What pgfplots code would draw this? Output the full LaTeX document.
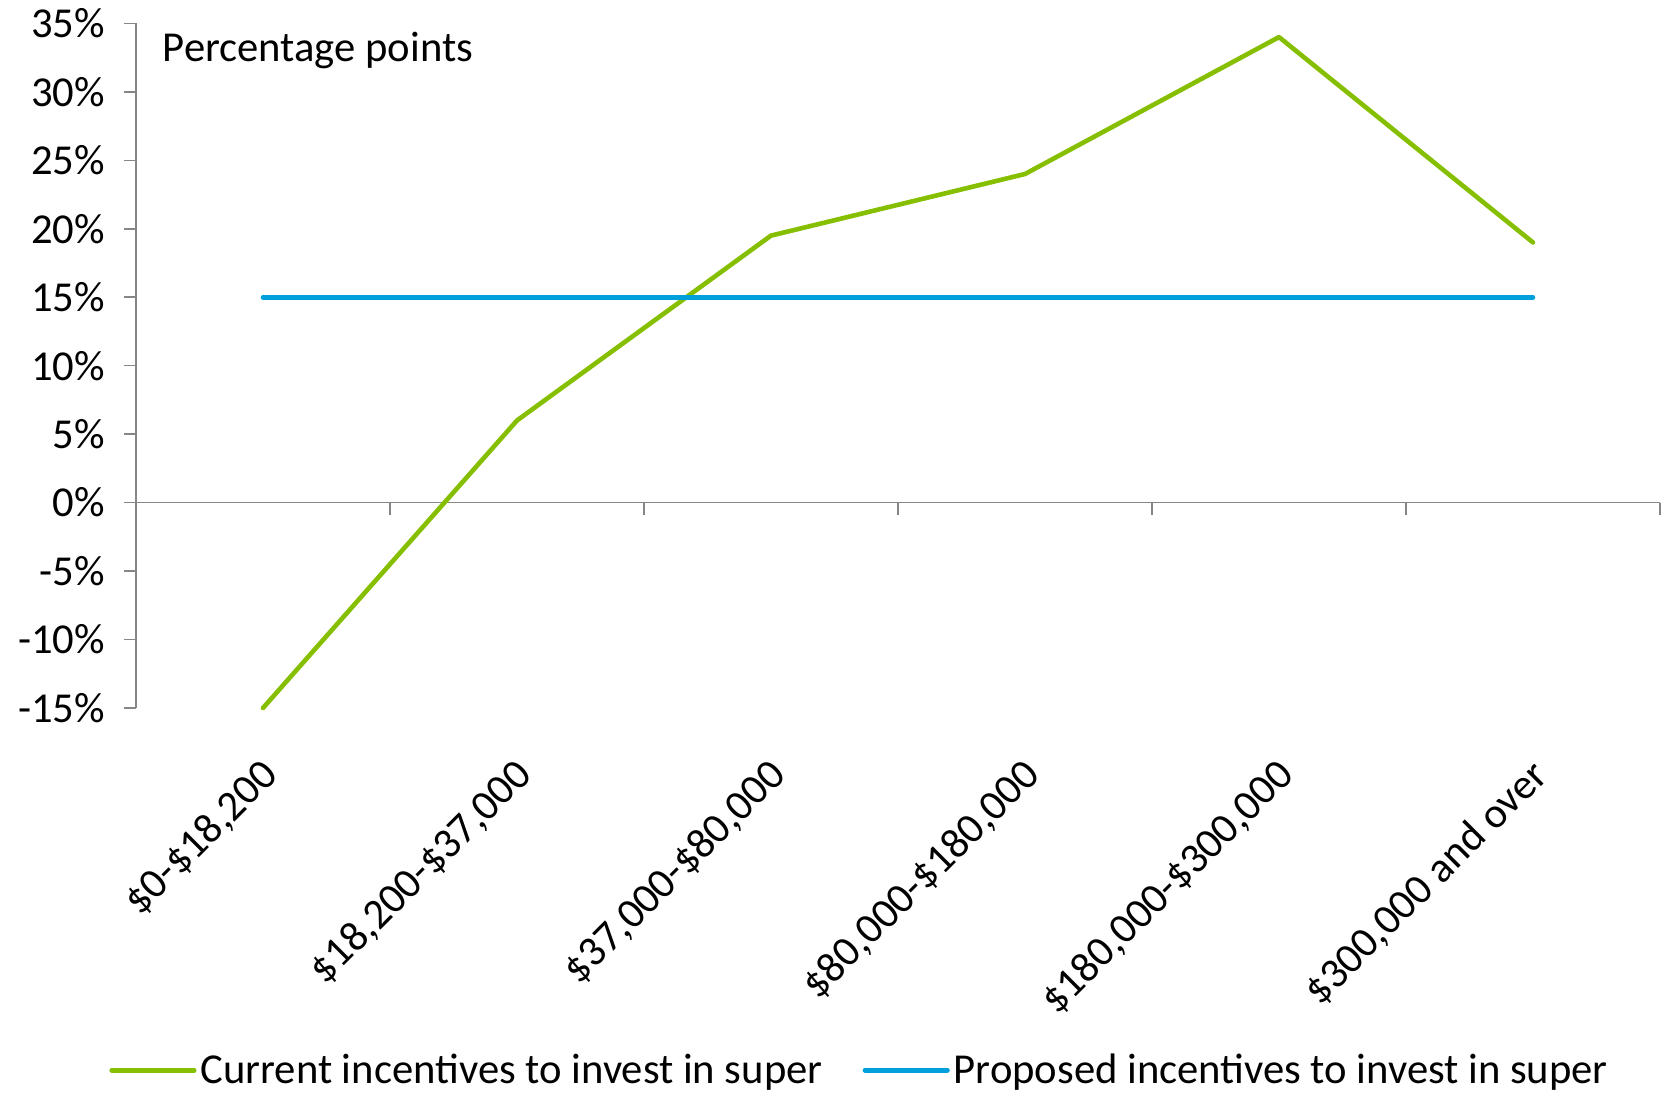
\documentclass[border=0pt]{standalone}
\usepackage{pgfplots}
\pgfplotsset{compat=1.18}
\usepackage{fontspec}
\setmainfont{Carlito}
\definecolor{cgreen}{RGB}{134,190,0}
\definecolor{cblue}{RGB}{0,160,220}
\definecolor{caxis}{RGB}{134,134,134}
\begin{document}
\begin{tikzpicture}[font=\fontsize{21.4}{24}\selectfont]
\begin{axis}[
  name=ax,
  scale only axis,
  width=762bp, height=342.3bp,
  xmin=-0.5, xmax=5.5,
  ymin=-15, ymax=35,
  axis x line=bottom,
  axis y line=left,
  x axis line style={draw=none,-},
  y axis line style={draw=caxis, line width=0.8bp,-},
  xtick={0,1,2,3,4,5},
  xticklabels={{\$0-\$18,200},{\$18,200-\$37,000},{\$37,000-\$80,000},{\$80,000-\$180,000},{\$180,000-\$300,000},{\$300,000 and over}},
  xtick style={draw=none},
  x tick label style={rotate=45, anchor=north east, font=\fontsize{21.4}{24}\selectfont, xshift=-11bp, yshift=-8bp},
  ytick={-15,-10,-5,0,5,10,15,20,25,30,35},
  yticklabels={{-15\%},{-10\%},{-5\%},{0\%},{5\%},{10\%},{15\%},{20\%},{25\%},{30\%},{35\%}},
  y tick label style={font=\fontsize{21.4}{24}\selectfont, xshift=-6bp},
  ytick style={draw=caxis, line width=0.8bp},
  tick align=outside,
  major tick length=6bp,
  clip=false,
  legend style={at={(0.4755,-0.529)}, anchor=center, draw=none, fill=none,
    legend columns=2, font=\fontsize{21.4}{24}\selectfont,
    /tikz/every even column/.append style={column sep=18bp}},
  legend image code/.code={\draw[#1, line width=2.6bp] (0bp,0bp) -- (41bp,0bp);},
]
\draw[caxis, line width=0.8bp] (axis cs:-0.5,0) -- (axis cs:5.5,0);
\pgfplotsinvokeforeach{0.5,1.5,2.5,3.5,4.5,5.5}{
  \draw[caxis, line width=0.8bp] (axis cs:#1,0) -- ([yshift=-6bp]axis cs:#1,0);
}
\addplot[cgreen, line width=2.3bp, line cap=round, line join=round] coordinates {
 (0,-15) (1,6) (2,19.5) (3,24) (4,34) (5,19)
};
\addlegendentry{Current incentives to invest in super}
\addplot[cblue, line width=2.3bp, line cap=round] coordinates {
 (0,15) (1,15) (2,15) (3,15) (4,15) (5,15)
};
\addlegendentry{Proposed incentives to invest in super}
\node[anchor=west] at (rel axis cs:0.013,0.96) {Percentage points};
\end{axis}
\path ([shift={(-68bp,-192bp)}]ax.south west) rectangle ([shift={(766.5bp,354bp)}]ax.south west);
\end{tikzpicture}
\end{document}
